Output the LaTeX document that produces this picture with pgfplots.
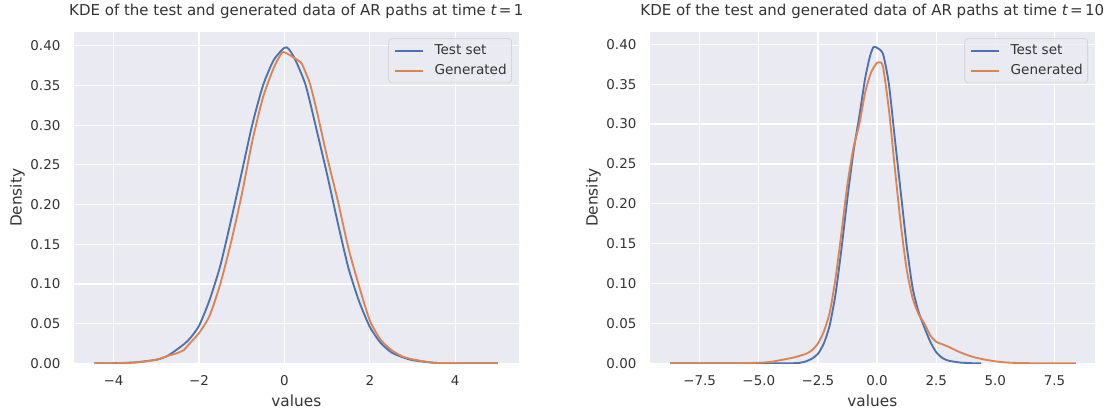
\documentclass[border=0pt]{standalone}
\usepackage{fontspec}
\setmainfont{DejaVu Sans}
\usepackage{pgfplots}
\pgfplotsset{compat=1.18}

\definecolor{sbbg}{HTML}{EAEAF2}
\definecolor{sbblue}{HTML}{4C72B0}
\definecolor{sborange}{HTML}{DD8452}

\pgfplotsset{
  kde/.style={
    scale only axis, width=333.5pt, height=248.25pt,
    ymin=0,
    axis background/.style={fill=sbbg},
    axis line style={draw=none},
    major tick length=0pt,
    grid=major,
    major grid style={white, line width=0.95pt},
    ytick={0,0.05,0.1,0.15,0.2,0.25,0.3,0.35,0.4},
    yticklabels={0.00,0.05,0.10,0.15,0.20,0.25,0.30,0.35,0.40},
    ticklabel style={font=\fontsize{10.1}{12}\selectfont, inner sep=0pt, text=black!80},
    yticklabel style={anchor=east, xshift=-10pt},
    xticklabel style={anchor=north, yshift=-8.8pt},
    xlabel=values, ylabel=Density,
    xlabel style={at={(axis description cs:0.5,-0.1289)}, anchor=base,
      font=\fontsize{11.5}{13}\selectfont, text=black!80},
    ylabel style={at={(axis description cs:-0.1274,0.5)}, anchor=center,
      font=\fontsize{11.5}{13}\selectfont, text=black!80},
    title style={at={(axis description cs:0.5,1)}, anchor=base, yshift=6.75pt,
      font=\fontsize{11.25}{13}\selectfont, text=black!80},
    legend style={at={(axis description cs:1,1)}, anchor=north east,
      xshift=-5pt, yshift=-4.5pt, fill=sbbg, fill opacity=0.8, text opacity=1,
      draw=black!20, rounded corners=2.5pt, font=\fontsize{10.2}{12}\selectfont,
      text=black!80, inner xsep=3.75pt, inner ysep=4.1pt, row sep=5pt,
      column sep=8.25pt,
      nodes={inner sep=0pt, text height=7.6pt, text depth=2.4pt}},
    legend cell align=left,
    legend image code/.code={\draw[##1, line width=1.4pt] (0pt,0pt) -- (21pt,0pt);},
  },
  kdeline/.style={line width=1.4pt, smooth, tension=0.4},
}

\begin{document}
\begin{tikzpicture}
% left panel, t = 1
\begin{axis}[kde, at={(55.5pt,33.5pt)}, anchor=south west,
  xmin=-4.925, xmax=5.485, ymax=0.4169,
  xtick={-4,-2,0,2,4}, xticklabels={−4,−2,0,2,4},
  title={KDE of the test and generated data of AR paths at time {\itshape t}\kern1.8pt=\kern1.8pt1}]
\addplot[sbblue, kdeline] coordinates {
  (-4.45,0.0000) (-4.0,0.0002) (-3.5,0.0012) (-3.0,0.0045) (-2.75,0.0090)
  (-2.5,0.0180) (-2.25,0.0290) (-2.0,0.0470) (-1.75,0.0800) (-1.5,0.1230)
  (-1.25,0.1800) (-1.0,0.2400) (-0.75,0.3010) (-0.5,0.3500) (-0.25,0.3820)
  (0.0,0.3975) (0.1,0.3960) (0.25,0.3830) (0.5,0.3500) (0.75,0.2950)
  (1.0,0.2380) (1.25,0.1770) (1.5,0.1200) (1.75,0.0780) (2.0,0.0460)
  (2.25,0.0260) (2.5,0.0140) (2.75,0.0080) (3.0,0.0040) (3.5,0.0007)
  (4.0,0.0001) (5.0,0.0000)
};
\addlegendentry{Test set}
\addplot[sborange, kdeline] coordinates {
  (-4.45,0.0000) (-4.0,0.0001) (-3.5,0.0010) (-3.0,0.0045) (-2.75,0.0090)
  (-2.5,0.0130) (-2.35,0.0170) (-2.25,0.0230) (-2.0,0.0380) (-1.75,0.0600)
  (-1.5,0.1000) (-1.25,0.1520) (-1.0,0.2120) (-0.75,0.2800) (-0.5,0.3350)
  (-0.25,0.3720) (-0.05,0.3915) (0.1,0.3890) (0.25,0.3840) (0.4,0.3780)
  (0.5,0.3660) (0.6,0.3520) (0.75,0.3200) (1.0,0.2600) (1.25,0.2050)
  (1.5,0.1450) (1.75,0.0970) (2.0,0.0540) (2.25,0.0300) (2.5,0.0170)
  (2.75,0.0090) (3.0,0.0050) (3.5,0.0008) (4.0,0.0002) (5.0,0.0000)
};
\addlegendentry{Generated}
\end{axis}

% right panel, t = 10
\begin{axis}[kde, at={(487.5pt,33.5pt)}, anchor=south west,
  xmin=-9.6, xmax=9.2, ymax=0.4150,
  xtick={-7.5,-5,-2.5,0,2.5,5,7.5},
  xticklabels={−7.5,−5.0,−2.5,0.0,2.5,5.0,7.5},
  title={KDE of the test and generated data of AR paths at time {\itshape t}\kern1.8pt=\kern1.8pt10}]
\addplot[sbblue, kdeline] coordinates {
  (-8.75,0.0000) (-5.0,0.0000) (-3.5,0.0002) (-3.25,0.0008) (-3.0,0.0025)
  (-2.75,0.0060) (-2.5,0.0120) (-2.25,0.0250) (-2.0,0.0480) (-1.75,0.0880)
  (-1.5,0.1450) (-1.25,0.2080) (-1.0,0.2650) (-0.75,0.3100) (-0.5,0.3580)
  (-0.3,0.3850) (-0.15,0.3965) (0.0,0.3955) (0.25,0.3880) (0.5,0.3500)
  (0.75,0.2820) (1.0,0.2150) (1.25,0.1480) (1.5,0.0950) (1.75,0.0650)
  (2.0,0.0450) (2.25,0.0270) (2.5,0.0140) (2.75,0.0070) (3.0,0.0035)
  (3.5,0.0010) (4.0,0.0002) (4.4,0.0000)
};
\addlegendentry{Test set}
\addplot[sborange, kdeline] coordinates {
  (-8.75,0.0000) (-6.0,0.0000) (-5.0,0.0008) (-4.5,0.0018) (-4.0,0.0045)
  (-3.5,0.0075) (-3.0,0.0120) (-2.75,0.0165) (-2.5,0.0250) (-2.25,0.0400)
  (-2.0,0.0640) (-1.75,0.1080) (-1.5,0.1650) (-1.25,0.2250) (-1.0,0.2700)
  (-0.75,0.3000) (-0.5,0.3400) (-0.25,0.3650) (0.0,0.3770) (0.1,0.3775)
  (0.25,0.3720) (0.5,0.3180) (0.75,0.2450) (1.0,0.1750) (1.25,0.1180)
  (1.5,0.0820) (1.75,0.0620) (2.0,0.0500) (2.25,0.0350) (2.5,0.0270)
  (2.75,0.0240) (3.0,0.0210) (3.5,0.0140) (4.0,0.0085) (4.5,0.0050)
  (5.0,0.0025) (5.5,0.0010) (6.0,0.0004) (7.0,0.0000) (8.4,0.0000)
};
\addlegendentry{Generated}
\end{axis}

\pgfresetboundingbox
\path[use as bounding box] (0,0) rectangle (831.75pt,306pt);
\end{tikzpicture}
\end{document}
